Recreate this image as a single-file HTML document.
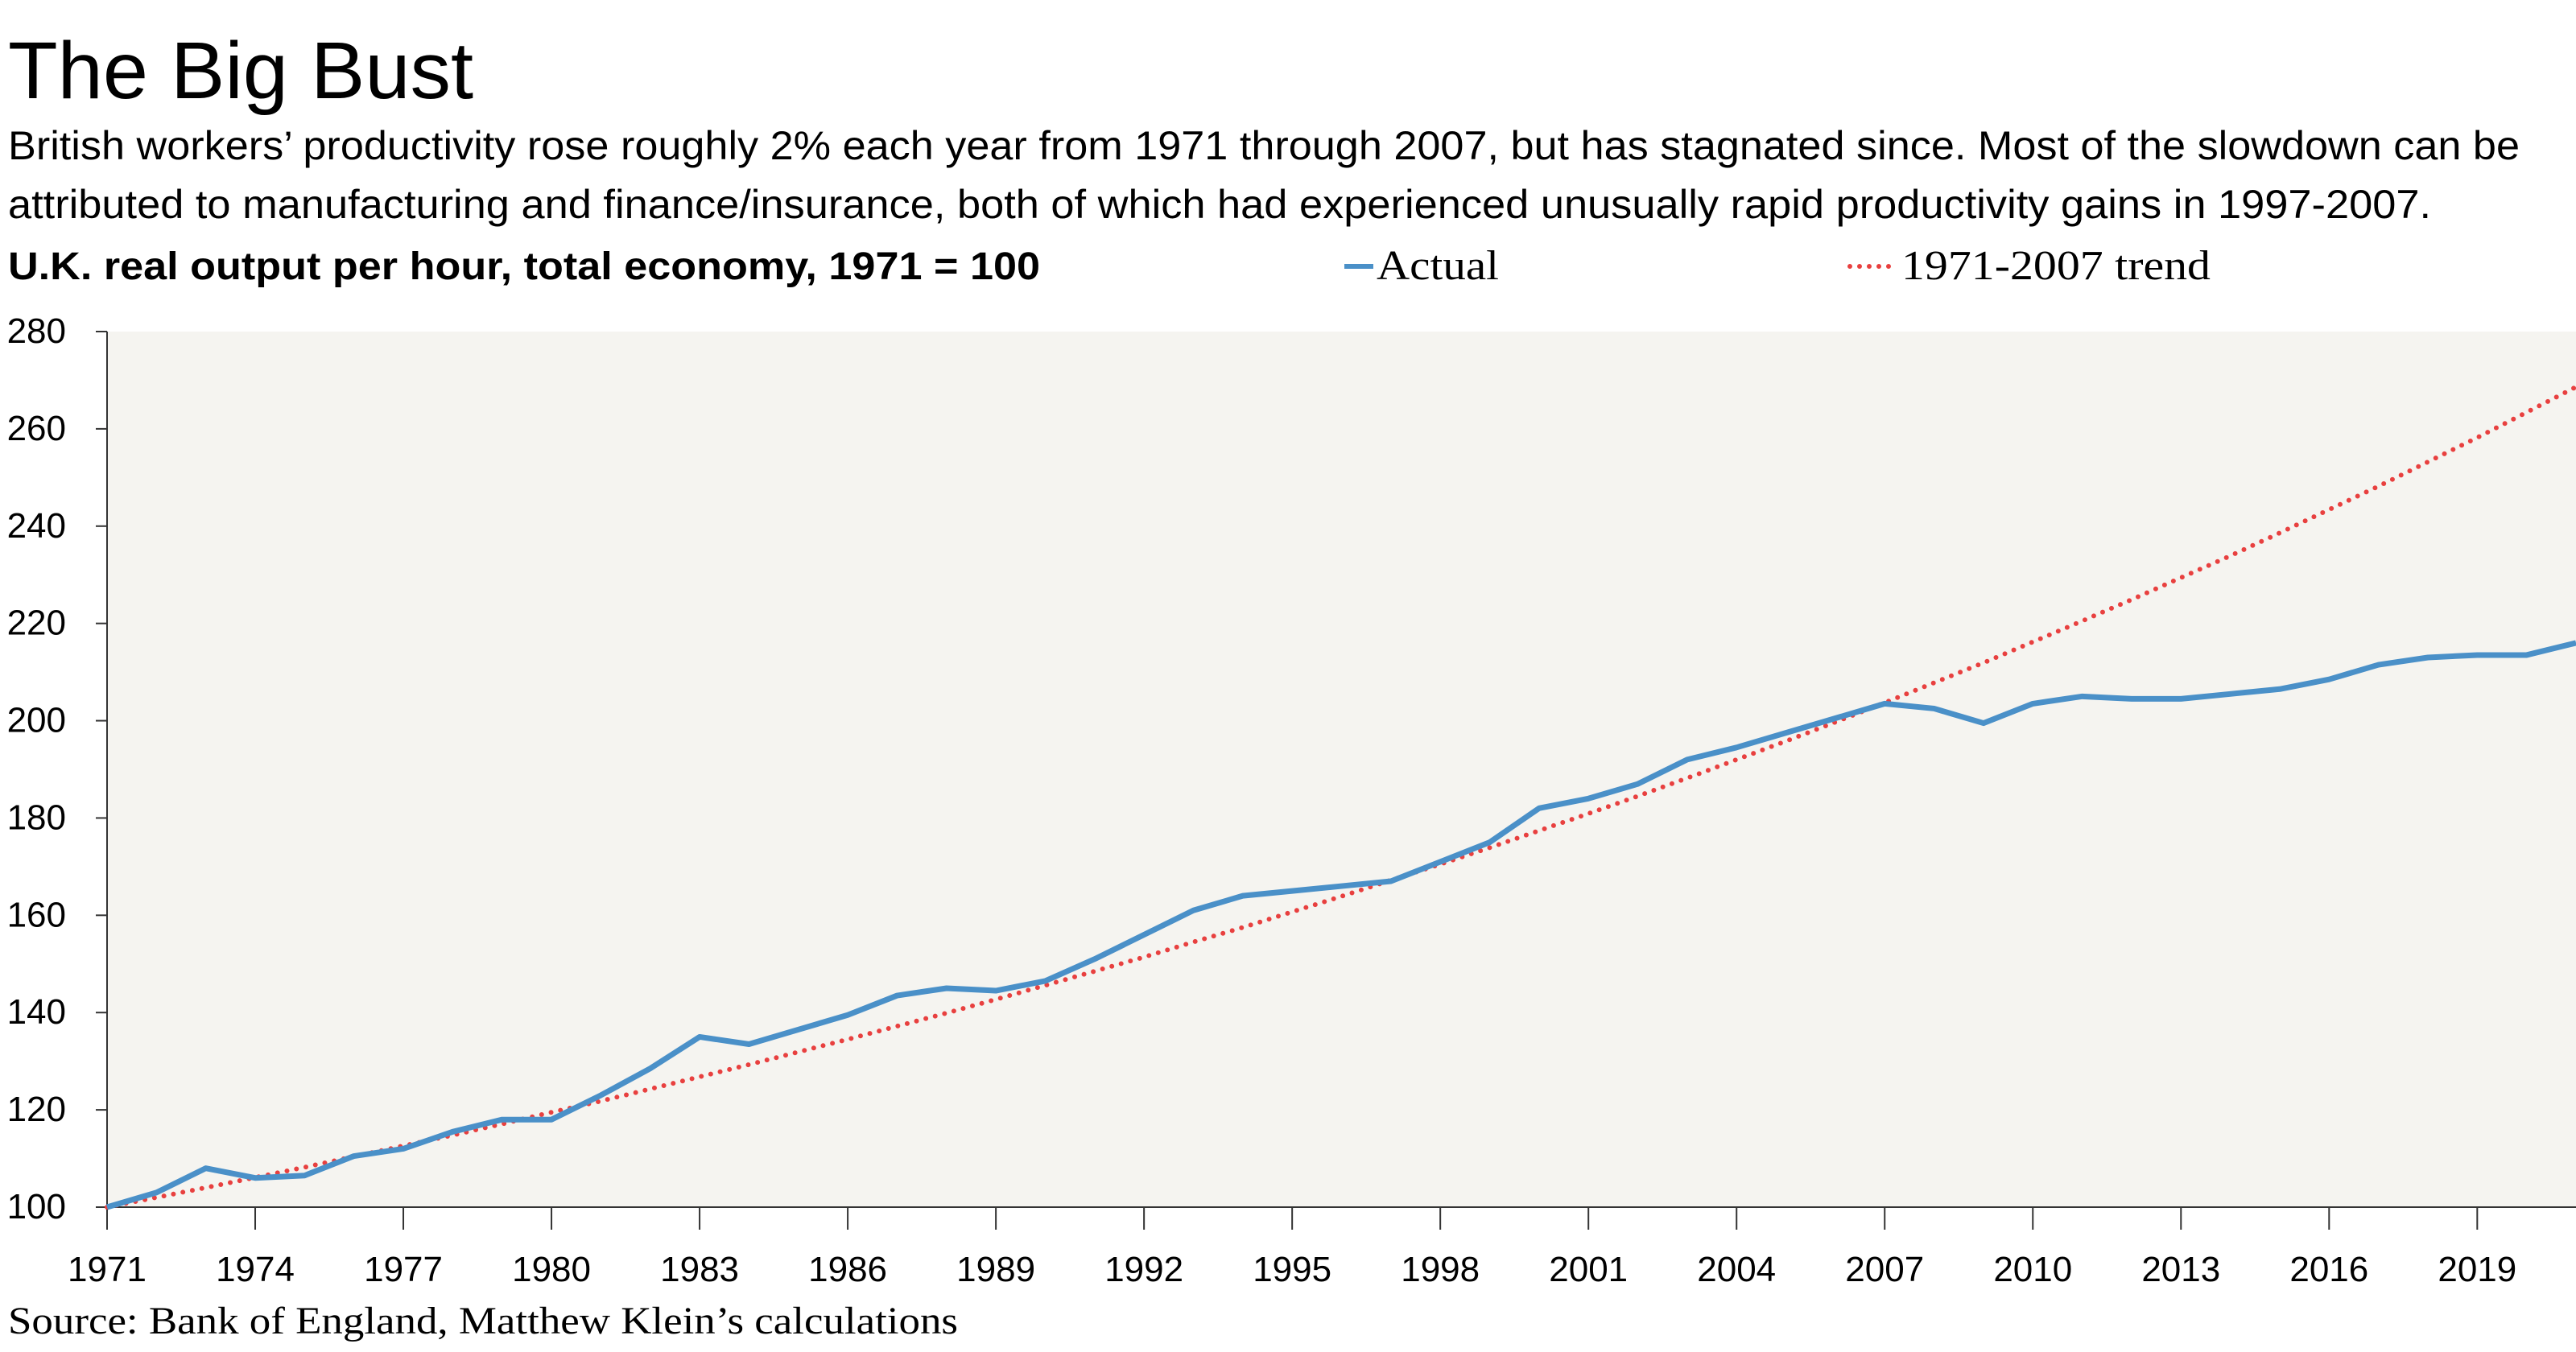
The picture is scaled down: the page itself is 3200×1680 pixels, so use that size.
<!DOCTYPE html>
<html><head><meta charset="utf-8"><style>
html,body{margin:0;padding:0;background:#fff;}
svg{display:block;}
.sans{font-family:"Liberation Sans",sans-serif;}
.serif{font-family:"Liberation Serif",serif;}
</style></head><body>
<svg id="chart" width="3200" height="1680" viewBox="0 0 3200 1680" xmlns="http://www.w3.org/2000/svg">
<text x="10" y="122" class="sans" font-size="100" textLength="578" lengthAdjust="spacingAndGlyphs" fill="#000">The Big Bust</text>
<text x="10" y="198" class="sans" font-size="50" textLength="3120" lengthAdjust="spacingAndGlyphs" fill="#000">British workers’ productivity rose roughly 2% each year from 1971 through 2007, but has stagnated since. Most of the slowdown can be</text>
<text x="10" y="271" class="sans" font-size="50" textLength="3010" lengthAdjust="spacingAndGlyphs" fill="#000">attributed to manufacturing and finance/insurance, both of which had experienced unusually rapid productivity gains in 1997-2007.</text>
<text x="10" y="347" class="sans" font-size="48" font-weight="bold" textLength="1282" lengthAdjust="spacingAndGlyphs" fill="#000">U.K. real output per hour, total economy, 1971 = 100</text>
<g>
<g>
<line x1="1670" y1="331" x2="1706" y2="331" stroke="#4a90c8" stroke-width="6"/>
<text x="1710" y="347" class="serif" font-size="52" textLength="152" lengthAdjust="spacingAndGlyphs" fill="#000">Actual</text>
</g>
<g>
<line x1="2298" y1="331" x2="2356" y2="331" stroke="#e8403f" stroke-width="6" stroke-linecap="round" stroke-dasharray="0 12"/>
<text x="2362" y="347" class="serif" font-size="52" textLength="384" lengthAdjust="spacingAndGlyphs" fill="#000">1971-2007 trend</text>
</g>
</g>
<rect x="133" y="412" width="3067" height="1088" fill="#f5f4f0"/>
<g id="axes"></g>
<g id="series"></g>
<text x="10" y="1657" class="serif" font-size="48" textLength="1180" lengthAdjust="spacingAndGlyphs" fill="#000">Source: Bank of England, Matthew Klein’s calculations</text>
</svg>
<script>
const years = [];
for (let y = 1971; y <= 2021; y++) years.push(y);
const actual = [100,103,108,106,106.5,110.5,112,115.5,118,118,123,128.5,135,133.5,136.5,139.5,143.5,145,144.5,146.5,151,156,161,164,165,166,167,171,175,182,184,187,192,194.5,197.5,200.5,203.5,202.5,199.5,203.5,205,204.5,204.5,205.5,206.5,208.5,211.5,213,213.5,213.5,216];
const trend = [100,102.0,104.0,106.1,108.2,110.4,112.6,114.8,117.1,119.5,121.8,124.3,126.8,129.3,131.9,134.5,137.2,139.9,142.7,145.6,148.5,151.4,154.5,157.5,160.7,163.9,167.2,170.5,173.9,177.4,180.9,184.5,188.2,192.0,195.8,199.7,203.7,207.8,211.9,216.2,220.5,224.9,229.4,233.9,238.6,243.4,248.2,253.2,258.2,263.4,268.6];
const yTicks = [100,120,140,160,180,200,220,240,260,280];
const xTickYears = [1971,1974,1977,1980,1983,1986,1989,1992,1995,1998,2001,2004,2007,2010,2013,2016,2019];

const NS = "http://www.w3.org/2000/svg";
const X0 = 133, X1 = 3200, Y0 = 1500, Y1 = 412;
function xs(yr){ return X0 + (yr - 1971) / (2021 - 1971) * (X1 - X0); }
function ys(v){ return Y0 - (v - 100) / (280 - 100) * (Y0 - Y1); }
function mk(tag, attrs){ const e = document.createElementNS(NS, tag); for (const k in attrs) e.setAttribute(k, attrs[k]); return e; }

const axes = document.getElementById('axes');
const yAxis = mk('line', {x1:X0, y1:Y1, x2:X0, y2:Y0, stroke:'#333', 'stroke-width':2});


axes.appendChild(yAxis);
const xAxis = mk('line', {x1:X0, y1:Y0, x2:X1, y2:Y0, stroke:'#333', 'stroke-width':2});


axes.appendChild(xAxis);

yTicks.forEach(v => {
  const t = mk('line', {x1:X0-14, y1:ys(v), x2:X0, y2:ys(v), stroke:'#333', 'stroke-width':2});
  
  
  axes.appendChild(t);
  const l = mk('text', {x:82, y:ys(v)+14, 'text-anchor':'end', 'font-size':44, 'font-family':'"Liberation Sans", sans-serif', fill:'#000'});
  l.textContent = v;
  
  
  axes.appendChild(l);
});
xTickYears.forEach(yr => {
  const t = mk('line', {x1:xs(yr), y1:Y0, x2:xs(yr), y2:Y0+28, stroke:'#333', 'stroke-width':2});
  
  
  axes.appendChild(t);
  const l = mk('text', {x:xs(yr), y:1592, 'text-anchor':'middle', 'font-size':44, 'font-family':'"Liberation Sans", sans-serif', fill:'#000'});
  l.textContent = yr;
  
  
  axes.appendChild(l);
});

const series = document.getElementById('series');
const tp = mk('polyline', {points: years.map((y,i)=>xs(y)+','+ys(trend[i])).join(' '), fill:'none', stroke:'#e8403f', 'stroke-width':6, 'stroke-linecap':'round', 'stroke-dasharray':'0 12'});


series.appendChild(tp);
const ap = mk('polyline', {points: years.map((y,i)=>xs(y)+','+ys(actual[i])).join(' '), fill:'none', stroke:'#4a90c8', 'stroke-width':7, 'stroke-linejoin':'round'});


series.appendChild(ap);
</script>
</body></html>
